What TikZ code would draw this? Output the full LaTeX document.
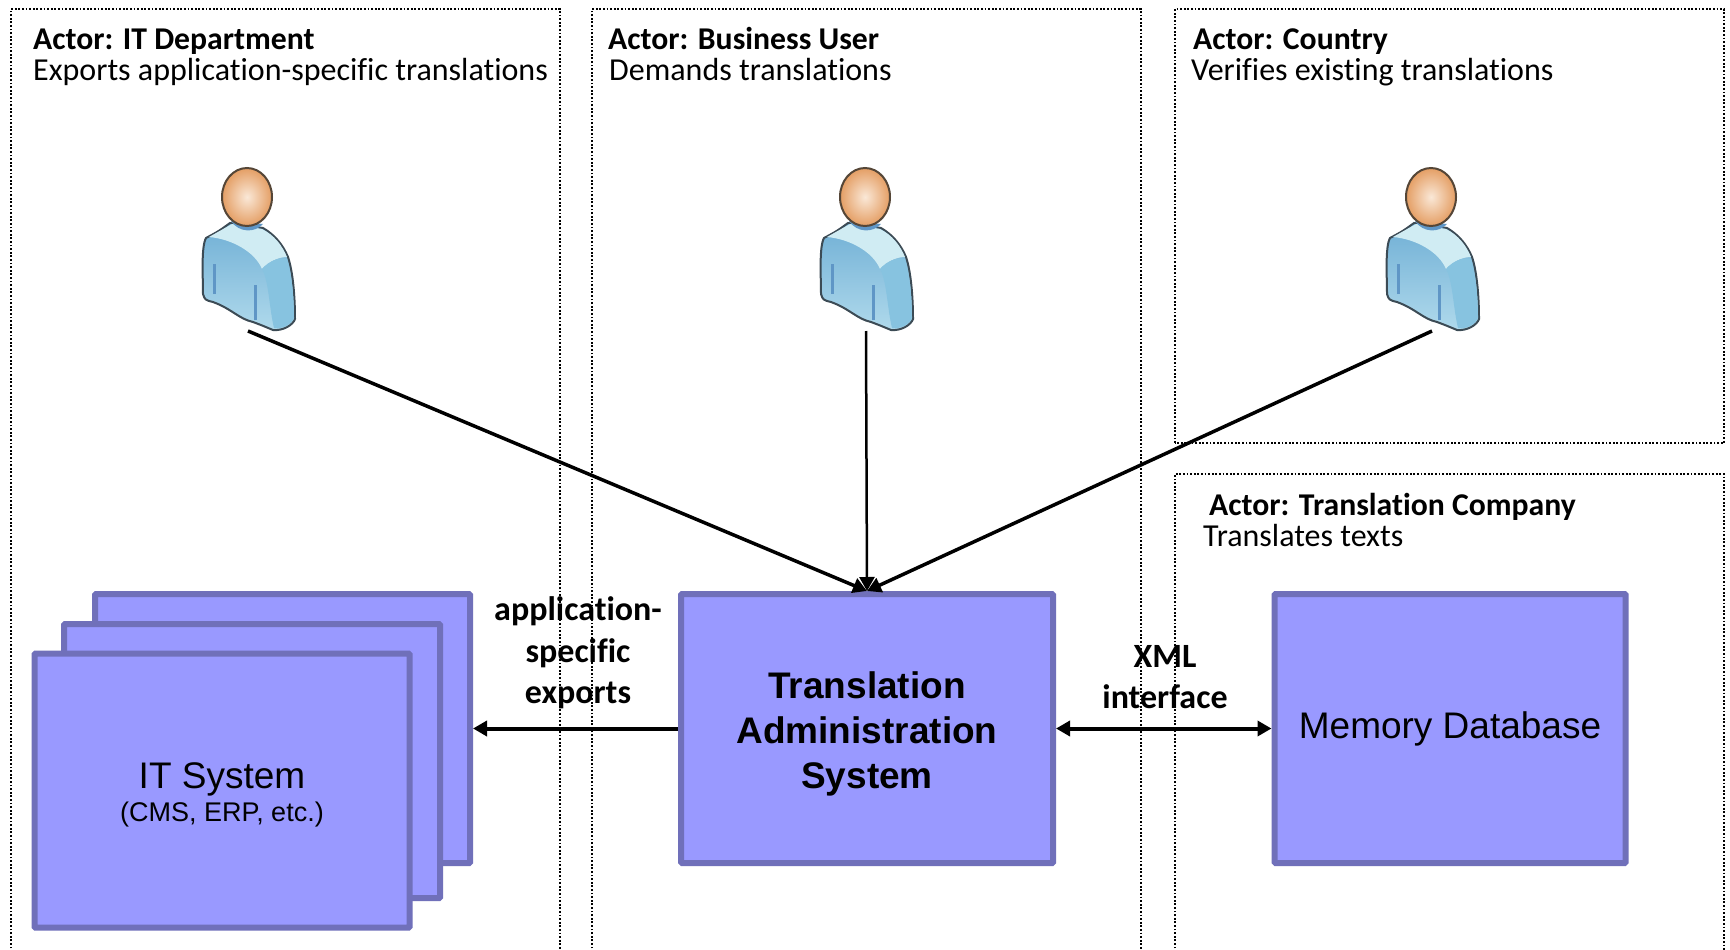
\documentclass[tikz,border=0pt]{standalone}
\usepackage{fontspec}
\setmainfont[Ligatures=NoCommon]{Carlito}
\newfontfamily\arialfont{Liberation Sans}
\usetikzlibrary{arrows.meta}
\definecolor{boxfill}{RGB}{153,153,255}
\definecolor{boxline}{RGB}{112,112,186}
\definecolor{skinedge}{RGB}{85,70,55}
\definecolor{skinfill}{RGB}{228,158,100}
\definecolor{skinlight}{RGB}{250,232,215}
\definecolor{shirtedge}{RGB}{60,75,85}
\definecolor{shirttop}{RGB}{112,175,213}
\definecolor{shirtlow}{RGB}{176,218,236}
\definecolor{shirtside}{RGB}{135,195,224}
\definecolor{shirtpale}{RGB}{208,236,243}
\definecolor{shirtdark}{RGB}{95,150,198}

\tikzset{
	sysbox/.style={draw=boxline, fill=boxfill, line width=6pt, rounded corners=1pt, inner sep=0pt, align=center, font=\arialfont},
	actorframe/.style={dash pattern=on 1.8pt off 1.8pt, line width=1.6pt, black},
	actorname/.style={anchor=base west, inner sep=0pt, font=\fontsize{31.7}{35}\selectfont\bfseries},
	actorrole/.style={anchor=base west, inner sep=0pt, font=\fontsize{32}{35}\selectfont},
	flowlabel/.style={align=center, inner sep=0pt, font=\fontsize{34}{41.5}\selectfont\bfseries},
	flow/.style={-{Triangle[length=14pt,width=15pt]}, line width=3.5pt, black},
	actoricon/.pic={
		\path[top color=shirttop, bottom color=shirtlow, draw=shirtedge, line width=2pt]
			(-17,26) .. controls (-28,34) .. (-41,41) .. controls (-46,50) and (-44,80) .. (-44,97)
			.. controls (-42,103) .. (-34,105) .. controls (-15,112) and (-8,122) .. (6,125)
			.. controls (14,128) .. (26,133) .. controls (36,134) and (46,128) .. (48,122)
			.. controls (48,100) and (46,75) .. (41,60) .. controls (36,48) and (28,38) .. (16,31) -- cycle;
		\fill[shirtpale] (-15,27) -- (-38,40) .. controls (-15,42) and (8,55) .. (15,72)
			.. controls (22,64) and (32,60) .. (40,60) .. controls (35,48) and (27,38) .. (15,32) -- cycle;
		\fill[shirtside] (15,72) .. controls (22,64) and (32,60) .. (40,62) .. controls (45,80) and (47,100) .. (47,121)
			.. controls (44,128) and (36,132) .. (27,131) .. controls (22,110) and (22,85) .. (15,72) -- cycle;
		\fill[shirtdark] (-16,24) .. controls (-8,36) and (8,36) .. (16,27) -- cycle;
		\draw[shirtdark, line width=3pt] (-33,67) -- (-33,97) (8,88) -- (8,123);
		\shade[inner color=skinlight, outer color=skinfill, draw=skinedge, line width=2pt] (0,0) ellipse (25pt and 29pt);
		\coordinate (-foot) at (1,134);
	}
}

\begin{document}
\begin{tikzpicture}[x=1pt, y=-1pt]
\useasboundingbox (0,0) rectangle (1730,950);
\fill[white] (0,0) rectangle (1730,950);

% actor frames
\draw[actorframe] (11,952) -- (11,9) -- (560,9) -- (560,952);
\draw[actorframe] (592,952) -- (592,9) -- (1141,9) -- (1141,952);
\draw[actorframe] (1175,443) -- (1175,9) -- (1724,9) -- (1724,443) -- cycle;
\draw[actorframe] (1175,952) -- (1175,474) -- (1724,474) -- (1724,952);

% actor texts
\node[actorname] (itname) at (33,50) {Actor: IT Department};
\node[actorrole] (itrole) at (33,81) {Exports application-specific translations};
\node[actorname] (busname) at (608,50) {Actor: Business User};
\node[actorrole] (busrole) at (609,81) {Demands translations};
\node[actorname] (coname) at (1193,50) {Actor: Country};
\node[actorrole] (corole) at (1191,81) {Verifies existing translations};
\node[actorname] (compname) at (1209,515) {Actor: Translation Company};
\node[actorrole] (comprole) at (1203,546) {Translates texts};

% actors
\pic (itactor) at (247,197) {actoricon};
\pic (busactor) at (865,197) {actoricon};
\pic (coactor) at (1431,197) {actoricon};

% systems
\node[sysbox, minimum width=375pt, minimum height=269pt] (itback) at (282.5,728.5) {};
\node[sysbox, minimum width=376pt, minimum height=274pt] (itmiddle) at (252,761) {};
\node[sysbox, minimum width=375pt, minimum height=274pt] (itfront) at (222,790.5) {};
\node[font=\arialfont\fontsize{37}{40}\selectfont, inner sep=0pt] (itsys) at (222,779) {IT System};
\node[font=\arialfont\fontsize{27}{30}\selectfont, inner sep=0pt] (itsub) at (222,815) {(CMS, ERP, etc.)};
\node[sysbox, minimum width=372pt, minimum height=269pt, font=\arialfont\bfseries\fontsize{37}{45}\selectfont] (tas) at (867,728.5) {\rule{0pt}{38pt}Translation\\Administration\\System};
\node[sysbox, minimum width=351pt, minimum height=269pt, font=\arialfont\fontsize{37}{40}\selectfont] (memdb) at (1450,728.5) {\raisebox{-3pt}{Memory Database}};

% connectors
\draw[flow] (itactor-foot) -- (tas.north);
\draw[flow, line width=2.5pt] (busactor-foot) -- (tas.north);
\draw[flow] (coactor-foot) -- (tas.north);
\draw[flow, line width=4pt] (tas.west) -- (itback.east);
\draw[flow, line width=4pt, {Triangle[length=14pt,width=15pt]}-{Triangle[length=14pt,width=15pt]}] (tas.east) -- (memdb.west);

\node[flowlabel] (exportlabel) at (578,653) {application-\\specific\\exports};
\node[flowlabel] (xmllabel) at (1165,677) {XML\\interface};
\end{tikzpicture}
\end{document}
